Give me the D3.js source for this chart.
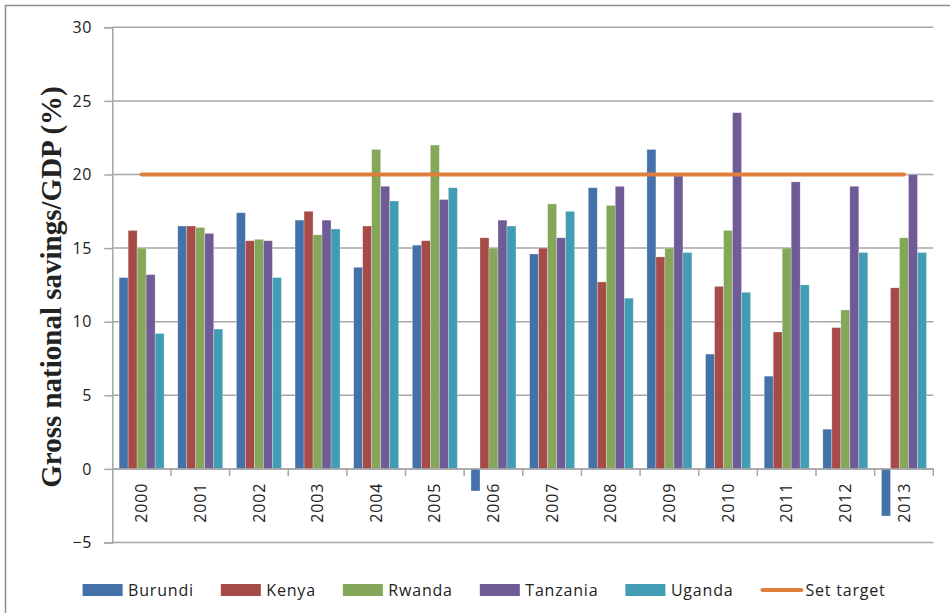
<!DOCTYPE html>
<html>
<head>
<meta charset="utf-8">
<script src="https://cdnjs.cloudflare.com/ajax/libs/d3/7.8.5/d3.min.js"></script>
<style>
  body { margin: 0; background: #fff; }
  svg text { font-family: 'Open Sans', sans-serif; fill: #222; }
</style>
</head>
<body>
<svg id="chart" width="950" height="613"></svg>
<script>
const years = ['2000', '2001', '2002', '2003', '2004', '2005', '2006', '2007', '2008', '2009', '2010', '2011', '2012', '2013']
const countries = ['Burundi', 'Kenya', 'Rwanda', 'Tanzania', 'Uganda']
const burundi = [13.0, 16.5, 17.4, 16.9, 13.7, 15.2, -1.5, 14.6, 19.1, 21.7, 7.8, 6.3, 2.7, -3.2]
const kenya = [16.2, 16.5, 15.5, 17.5, 16.5, 15.5, 15.7, 15.0, 12.7, 14.4, 12.4, 9.3, 9.6, 12.3]
const rwanda = [15.0, 16.4, 15.6, 15.9, 21.7, 22.0, 15.0, 18.0, 17.9, 15.0, 16.2, 15.0, 10.8, 15.7]
const tanzania = [13.2, 16.0, 15.5, 16.9, 19.2, 18.3, 16.9, 15.7, 19.2, 19.9, 24.2, 19.5, 19.2, 20.0]
const uganda = [9.2, 9.5, 13.0, 16.3, 18.2, 19.1, 16.5, 17.5, 11.6, 14.7, 12.0, 12.5, 14.7, 14.7]
const setTarget = [20, 20, 20, 20, 20, 20, 20, 20, 20, 20, 20, 20, 20, 20]
const yTicks = [-5, 0, 5, 10, 15, 20, 25, 30]

const seriesValues = [burundi, kenya, rwanda, tanzania, uganda]
const colors = ['#4472a8', '#a64b48', '#84a75a', '#6f5b96', '#429cb3']
const targetColor = '#e07e3c'
const gridColor = '#a6a6a6'

const svg = d3.select('#chart')

// outer chart frame (runs off the right / bottom edge like the source)
svg.append('rect')
    .attr('x', 5.5).attr('y', 5.5)
    .attr('width', 1000).attr('height', 700)
    .attr('fill', 'none')
    .attr('stroke', '#8c8c8c')
    .attr('stroke-width', 1.5)

const plot = { left: 112.3, right: 933.3, top: 27.3, bottom: 542.5 }

const x = d3.scaleBand()
    .domain(years)
    .range([plot.left, plot.right])
    .paddingInner(0.233)
    .paddingOuter(0.1165)

const x1 = d3.scaleBand()
    .domain(countries)
    .range([0, x.bandwidth()])

const y = d3.scaleLinear()
    .domain([-5, 30])
    .range([plot.bottom, plot.top])

// gridlines
svg.append('g')
  .selectAll('line')
    .data(yTicks)
  .enter()
  .append('line')
    .attr('x1', plot.left).attr('x2', plot.right)
    .attr('y1', d => y(d)).attr('y2', d => y(d))
    .attr('stroke', gridColor)
    .attr('stroke-width', 1.5)

// y axis
const yAxis = d3.axisLeft(y)
    .tickValues(yTicks)
    .tickSize(8)
    .tickPadding(12)

const yg = svg.append('g')
    .attr('transform', 'translate(' + plot.left + ',0)')
    .call(yAxis)
yg.select('.domain').attr('stroke', gridColor).attr('stroke-width', 1.5)
yg.selectAll('.tick line').attr('stroke', gridColor).attr('stroke-width', 1.5)
yg.selectAll('.tick text')
    .style('font-family', "'Open Sans', sans-serif")
    .style('font-size', '16px')
    .style('letter-spacing', '0.8px')
    .attr('fill', '#222')

// bars
const groups = svg.append('g')
  .selectAll('g')
    .data(years)
  .enter()
  .append('g')
    .attr('transform', d => 'translate(' + x(d) + ',0)')

groups.selectAll('rect')
    .data((d, i) => countries.map((c, k) => ({ c: c, k: k, v: seriesValues[k][i] })))
  .enter()
  .append('rect')
    .attr('x', d => x1(d.c))
    .attr('width', x1.bandwidth())
    .attr('y', d => y(Math.max(0, d.v)))
    .attr('height', d => Math.abs(y(d.v) - y(0)))
    .attr('fill', d => colors[d.k])
    .attr('stroke', 'rgba(255,255,255,0.45)')
    .attr('stroke-width', 0.6)

// x axis at zero, ticks on category boundaries
const y0 = y(0)
const xg = svg.append('g')
xg.append('line')
    .attr('x1', plot.left).attr('x2', plot.right)
    .attr('y1', y0).attr('y2', y0)
    .attr('stroke', gridColor)
    .attr('stroke-width', 1.5)
const step = x.step()
xg.selectAll('line.tk')
    .data(years)
  .enter()
  .append('line')
    .attr('class', 'tk')
    .attr('x1', d => x(d) + x.bandwidth() / 2 + step / 2)
    .attr('x2', d => x(d) + x.bandwidth() / 2 + step / 2)
    .attr('y1', y0).attr('y2', y0 + 7)
    .attr('stroke', gridColor)
    .attr('stroke-width', 1.5)

xg.selectAll('text')
    .data(years)
  .enter()
  .append('text')
    .attr('transform', d => 'translate(' + (x(d) + x.bandwidth() / 2) + ',' + (y0 + 14) + ') rotate(-90)')
    .attr('text-anchor', 'end')
    .attr('dy', '0.35em')
    .style('font-size', '16px')
    .style('letter-spacing', '0.8px')
    .text(d => d)

// target line
const line = d3.line()
    .x((d, i) => x(years[i]) + x.bandwidth() / 2)
    .y(d => y(d))

svg.append('path')
    .datum(setTarget)
    .attr('d', line)
    .attr('fill', 'none')
    .attr('stroke', targetColor)
    .attr('stroke-width', 4)
    .attr('stroke-linecap', 'round')

// y title
svg.append('text')
    .attr('transform', 'translate(61,' + 287 + ') rotate(-90)')
    .attr('text-anchor', 'middle')
    .style('font-family', "'Liberation Serif', 'Times New Roman', serif")
    .style('font-weight', 'bold')
    .style('font-size', '29px')
    .text('Gross national savings/GDP (%)')

// legend
const legend = svg.append('g')
const legendItems = countries.concat(['Set target'])
let lx = 82.6
const ly = 590
legendItems.forEach((name, i) => {
  if (i < countries.length) {
    legend.append('rect')
        .attr('x', lx).attr('y', ly - 6)
        .attr('width', 40).attr('height', 12)
        .attr('fill', colors[i])
    lx += 45.5
  } else {
    legend.append('line')
        .attr('x1', lx + 2).attr('x2', lx + 41)
        .attr('y1', ly).attr('y2', ly)
        .attr('stroke', targetColor)
        .attr('stroke-width', 4)
        .attr('stroke-linecap', 'round')
    lx += 45
  }
  const t = legend.append('text')
      .attr('x', lx).attr('y', ly)
      .attr('dy', '0.35em')
      .style('font-size', '16px')
      .style('letter-spacing', '0.8px')
      .text(name)
  lx += t.node().getComputedTextLength() + 27
})
</script>
</body>
</html>
